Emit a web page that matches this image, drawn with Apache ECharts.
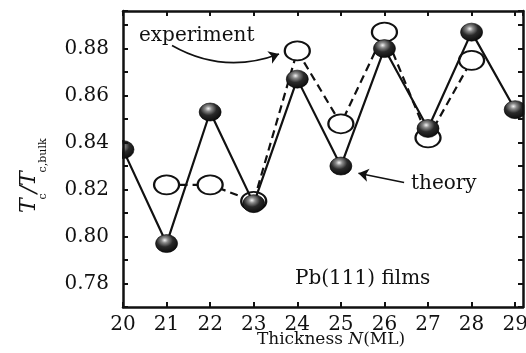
<!DOCTYPE html>
<html><head><meta charset="utf-8">
<script src="https://cdn.jsdelivr.net/npm/echarts@6/dist/echarts.min.js"></script>
<style>html,body{margin:0;padding:0;background:#fff}#c{width:526px;height:353px}</style>
</head><body><div id="c"></div>
<script>
// ---- data ----
const thicknessN   = [20, 21, 22, 23, 24, 25, 26, 27, 28, 29];
const theoryTc     = [0.837, 0.797, 0.853, 0.814, 0.867, 0.830, 0.880, 0.846, 0.887, 0.854];
const experimentN  = [21, 22, 23, 24, 25, 26, 27, 28];
const experimentTc = [0.822, 0.822, 0.815, 0.879, 0.848, 0.887, 0.842, 0.875];
const xTickLabels  = ['20','21','22','23','24','25','26','27','28','29'];
const yTickLabels  = ['0.78','0.80','0.82','0.84','0.86','0.88'];
// annotation arrows in data coordinates [N, Tc]
const experimentArrow = [[21.125, 0.8813], [23.581, 0.8777]];
const theoryArrow     = [[26.451, 0.8230], [25.404, 0.8269]];

const FONT = 'DejaVu Serif';
const INK = '#111';

const theoryData = thicknessN.map((n, i) => [n, theoryTc[i]]);
const experimentData = experimentN.map((n, i) => [n, experimentTc[i]]);

const sphere = {
  type: 'radial', x: 0.42, y: 0.32, r: 0.72,
  colorStops: [
    {offset: 0, color: '#f4f4f4'},
    {offset: 0.2, color: '#8a8a8a'},
    {offset: 0.5, color: '#2a2a2a'},
    {offset: 1, color: '#080808'}
  ]
};

const baseX = {
  type: 'value', min: 20, max: 29.18, interval: 1, zlevel: 1, z: 60,
  splitLine: {show: false},
  axisLine: {show: true, onZero: false, lineStyle: {color: INK, width: 2.5}},
  axisTick: {show: true, inside: true, length: 5, lineStyle: {color: INK, width: 2}}
};
const baseY = {
  type: 'value', min: 0.77, max: 0.896, interval: 0.01, zlevel: 1, z: 60,
  splitLine: {show: false},
  axisLine: {show: true, onZero: false, lineStyle: {color: INK, width: 2.5}},
  axisTick: {show: true, inside: true, length: 5, lineStyle: {color: INK, width: 2}}
};

const chart = echarts.init(document.getElementById('c'), null, {renderer: 'canvas'});
chart.setOption({
  animation: false,
  backgroundColor: '#fff',
  grid: {left: 123, right: 3, top: 11, bottom: 46, containLabel: false, outerBoundsMode: 'none'},
  xAxis: [
    Object.assign({}, baseX, {
      position: 'bottom',
      axisLabel: {
        show: true, margin: 8, color: INK, fontFamily: FONT, fontSize: 20,
        showMaxLabel: false, hideOverlap: false,
        formatter: v => { const s = String(Math.round(v)); return (Math.abs(v - Math.round(v)) < 1e-6 && xTickLabels.includes(s)) ? s : ''; }
      }
    }),
    Object.assign({}, baseX, {position: 'top', axisLabel: {show: false}})
  ],
  yAxis: [
    Object.assign({}, baseY, {
      position: 'left',
      axisLabel: {
        show: true, margin: 14, color: INK, fontFamily: FONT, fontSize: 20,
        formatter: v => { const s = v.toFixed(2); return (Math.abs(v * 100 - Math.round(v * 100)) < 1e-6 && yTickLabels.includes(s)) ? s : ''; }
      }
    }),
    Object.assign({}, baseY, {position: 'right', axisLabel: {show: false}})
  ],
  series: [
    {
      name: 'experiment', type: 'line', z: 2,
      xAxisIndex: 0, yAxisIndex: 0,
      data: experimentData,
      symbol: 'circle', symbolSize: [25, 19],
      lineStyle: {color: INK, width: 2.2, type: [8, 5]},
      itemStyle: {color: '#fff', borderColor: INK, borderWidth: 2},
      emphasis: {disabled: true}
    },
    {
      name: 'theory', type: 'line', z: 3,
      xAxisIndex: 0, yAxisIndex: 0,
      data: theoryData,
      symbol: 'circle', symbolSize: [22, 18],
      lineStyle: {color: INK, width: 2.2},
      itemStyle: {color: sphere, borderColor: '#000', borderWidth: 0.6},
      emphasis: {disabled: true}
    },
    {
      name: 'arrows', type: 'lines', coordinateSystem: 'cartesian2d', z: 4,
      xAxisIndex: 0, yAxisIndex: 0, polyline: false, silent: true,
      symbol: ['none', 'arrow'], symbolSize: 10,
      lineStyle: {color: INK, width: 1.6, opacity: 1},
      effect: {show: false},
      data: [
        {coords: experimentArrow, lineStyle: {color: INK, width: 1.6, curveness: -0.234}},
        {coords: theoryArrow, lineStyle: {color: INK, width: 1.6, curveness: 0}}
      ]
    }
  ],
  graphic: {
    elements: [
      // masks so the spheres at the frame edges look clipped by the frame
      {type: 'rect', silent: true, zlevel: 1, z: 50, shape: {x: 110, y: 0, width: 12, height: 312}, style: {fill: '#fff'}},
      {type: 'rect', silent: true, zlevel: 1, z: 50, shape: {x: 524.3, y: 0, width: 10, height: 312}, style: {fill: '#fff'}},
      {type: 'text', silent: true, zlevel: 1, z: 70, x: 139, y: 36,
        style: {text: 'experiment', font: '20px "' + FONT + '"', fill: INK, align: 'left', verticalAlign: 'middle'}},
      {type: 'text', silent: true, zlevel: 1, z: 70, x: 411, y: 184,
        style: {text: 'theory', font: '20px "' + FONT + '"', fill: INK, align: 'left', verticalAlign: 'middle'}},
      {type: 'text', silent: true, zlevel: 1, z: 70, x: 295, y: 279,
        style: {text: 'Pb(111) films', font: '20px "' + FONT + '"', fill: INK, align: 'left', verticalAlign: 'middle'}},
      {type: 'text', silent: true, zlevel: 1, z: 70, x: 331, y: 340,
        style: {text: 'Thickness {i|N}(ML)', font: '17px "' + FONT + '"', fill: INK, align: 'center', verticalAlign: 'middle',
          rich: {i: {fontStyle: 'italic', fontFamily: FONT, fontSize: 17, fill: INK}}}},
      {type: 'group', silent: true, zlevel: 1, z: 70, x: 37, y: 213, rotation: Math.PI / 2,
        children: [
          {type: 'text', x: 0, y: -7.6, style: {text: 'T', font: 'italic 22px "' + FONT + '"', fill: INK, align: 'left', verticalAlign: 'middle'}},
          {type: 'text', x: 13.5, y: 6.2, style: {text: 'c', font: '11px "' + FONT + '"', fill: INK, align: 'left', verticalAlign: 'middle'}},
          {type: 'text', x: 19.7, y: -7.6, style: {text: '/', font: 'italic 22px "' + FONT + '"', fill: INK, align: 'left', verticalAlign: 'middle'}},
          {type: 'text', x: 27.1, y: -7.6, style: {text: 'T', font: 'italic 22px "' + FONT + '"', fill: INK, align: 'left', verticalAlign: 'middle'}},
          {type: 'text', x: 40.6, y: 6.2, style: {text: 'c,bulk', font: '11px "' + FONT + '"', fill: INK, align: 'left', verticalAlign: 'middle'}}
        ]}
    ]
  }
});
</script></body></html>
